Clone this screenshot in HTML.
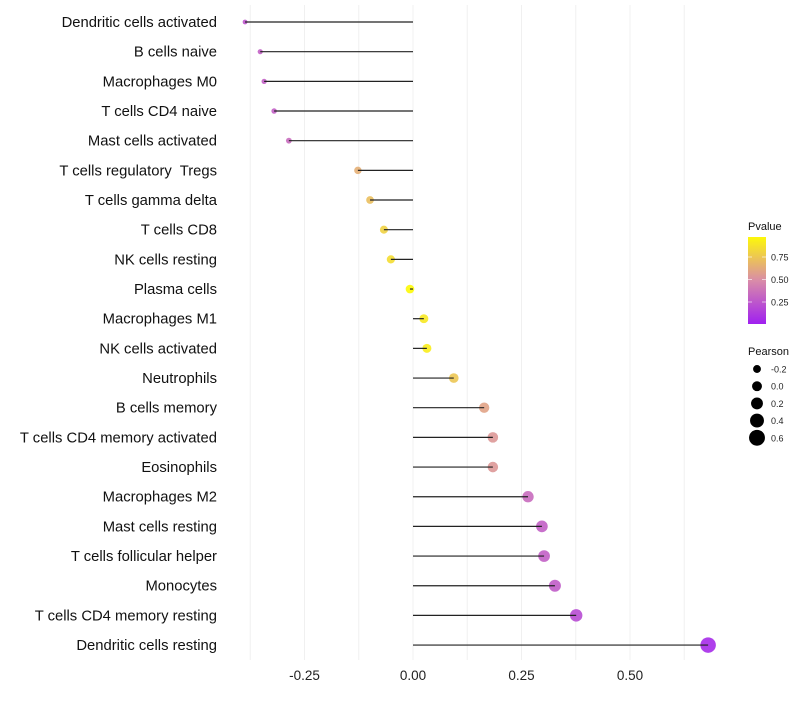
<!DOCTYPE html>
<html><head><meta charset="utf-8"><style>
body{margin:0;background:#fff;font-family:"Liberation Sans",sans-serif}
text{white-space:pre}
</style></head><body>
<svg id="c" width="800" height="700" xmlns="http://www.w3.org/2000/svg"></svg>
<script>
const categories=["Dendritic cells activated","B cells naive","Macrophages M0","T cells CD4 naive","Mast cells activated","T cells regulatory  Tregs","T cells gamma delta","T cells CD8","NK cells resting","Plasma cells","Macrophages M1","NK cells activated","Neutrophils","B cells memory","T cells CD4 memory activated","Eosinophils","Macrophages M2","Mast cells resting","T cells follicular helper","Monocytes","T cells CD4 memory resting","Dendritic cells resting"];
const pearson=[-0.387,-0.352,-0.343,-0.32,-0.286,-0.127,-0.099,-0.067,-0.051,-0.007,0.025,0.032,0.094,0.164,0.184,0.184,0.265,0.297,0.302,0.327,0.376,0.68];
const pvalue=[0.25,0.3,0.3,0.3,0.35,0.65,0.72,0.8,0.85,0.98,0.9,0.92,0.75,0.6,0.55,0.55,0.35,0.3,0.3,0.28,0.2,0.05];
const xTicks=[-0.25,0,0.25,0.5];
const xTickLabels=["-0.25","0.00","0.25","0.50"];
const pTicks=[0.25,0.5,0.75];
const sizeTicks=[-0.2,0,0.2,0.4,0.6];

const svg=document.getElementById('c');const NS="http://www.w3.org/2000/svg";
function el(t,a,p){const e=document.createElementNS(NS,t);for(const k in a)e.setAttribute(k,a[k]);(p||svg).appendChild(e);return e;}
const x=v=>413+v*434;
const y=i=>22+i*29.67;
const r=v=>2.4+(v+0.39)*5;
function lerp(a,b,t){return a.map((c,i)=>Math.round(c+(b[i]-c)*t));}
function col(p){const s=[[160,32,240],[217,140,168],[255,255,0]];const c=p<0.5?lerp(s[0],s[1],p/0.5):lerp(s[1],s[2],(p-0.5)/0.5);return `rgb(${c})`;}
for(let v=-0.375;v<=0.63;v+=0.125){const g=el('line',{x1:x(v),x2:x(v),y1:5,y2:660,stroke:'#f0f0f0','stroke-width':1});
}
xTicks.forEach((v,i)=>{const t=el('text',{x:x(v),y:680,'text-anchor':'middle','font-size':13.5,fill:'#222'});t.textContent=xTickLabels[i];
});
categories.forEach((c,i)=>{
const t=el('text',{x:217,y:y(i)+5,'text-anchor':'end','font-size':14.8,fill:'#111'});t.textContent=c;

const d=el('circle',{cx:x(pearson[i]),cy:y(i),r:r(pearson[i]),fill:col(pvalue[i]),'fill-opacity':0.9});

const l=el('line',{x1:x(0),x2:x(pearson[i]),y1:y(i),y2:y(i),stroke:'#222','stroke-width':1.2});

});
const lt=el('text',{x:748,y:230,'font-size':11,fill:'#111'});lt.textContent='Pvalue';

const defs=el('defs',{});const gr=el('linearGradient',{id:'g',x1:0,y1:1,x2:0,y2:0},defs);
[[0,0],[0.5,0.5],[1,0.97]].forEach(s=>el('stop',{offset:s[0],'stop-color':col(s[1])},gr));
const bar=el('rect',{x:748,y:237,width:18,height:87,fill:'url(#g)'});

const py=p=>324.5-p*90;
pTicks.forEach(p=>{el('line',{x1:748,x2:752,y1:py(p),y2:py(p),stroke:'#fff','stroke-opacity':0.6});el('line',{x1:762,x2:766,y1:py(p),y2:py(p),stroke:'#fff','stroke-opacity':0.6});
const t=el('text',{x:771,y:py(p)+3.5,'font-size':9,fill:'#222'});t.textContent=p.toFixed(2);
});
const st=el('text',{x:748,y:355,'font-size':11,fill:'#111'});st.textContent='Pearson';

sizeTicks.forEach((s,i)=>{const cy=369+i*17.2;
const c=el('circle',{cx:757,cy:cy,r:r(s)+0.6,fill:'#000'});
const t=el('text',{x:771,y:cy+3.5,'font-size':9,fill:'#222'});t.textContent=s.toFixed(1);
});
</script>
</body></html>
